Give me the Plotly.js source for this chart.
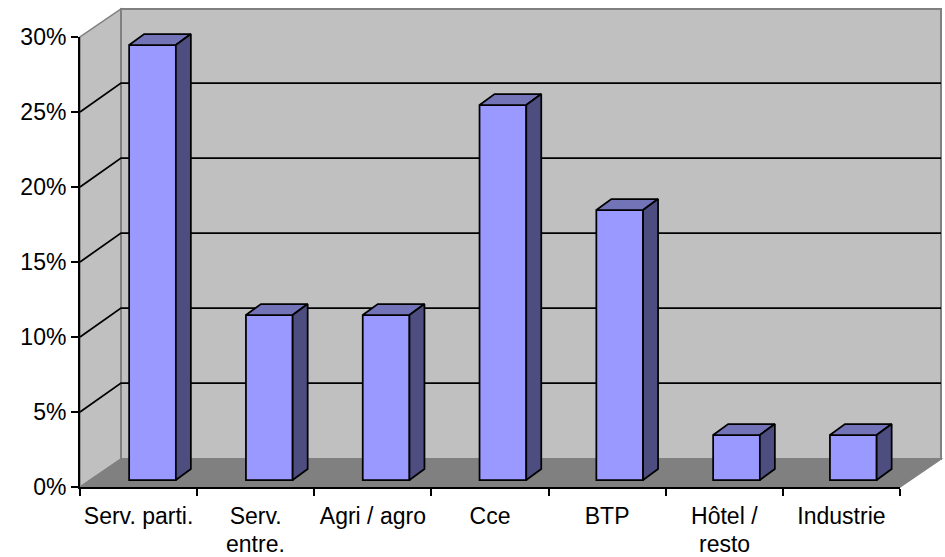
<!DOCTYPE html>
<html>
<head>
<meta charset="utf-8">
<script src="https://cdn.plot.ly/plotly-3.0.1.min.js"></script>
<style>html,body{margin:0;padding:0;background:#fff}#chart{width:945px;height:557px}</style>
</head>
<body>
<div id="chart"></div>
<script>
// Sector shares, in percent
const categories = ['Serv. parti.', 'Serv.', 'Agri / agro', 'Cce', 'BTP', 'Hôtel /', 'Industrie'];
const secondLines = ['', 'entre.', '', '', '', 'resto', ''];
const shares = [29, 11, 11, 25, 18, 3, 3];
const yTicks = [0, 5, 10, 15, 20, 25, 30];

// Page geometry of the fake 3D box, in pixels
const W = 945, H = 557;
const M = {l: 80, r: 4, t: 5, b: 70};
const box = {left: 80, right: 900, top: 37, bottom: 487, dx: 41, dy: 28, gridDy: 29};
const barPlane = {firstCentre: 152.5, spacing: 116.8, zeroY: 480, unitY: 15};
const barDepth = {px: 15, py: 11};
const barGap = 0.6;

const plotW = W - M.l - M.r, plotH = H - M.t - M.b;
const paperX = p => (p - M.l) / plotW;
const paperY = p => (H - M.b - p) / plotH;

const polyPath = pts => 'M' + pts.map(p => paperX(p[0]) + ',' + paperY(p[1])).join('L') + 'Z';
const linePath = pts => 'M' + pts.map(p => paperX(p[0]) + ',' + paperY(p[1])).join('L');
const paperShape = (path, fill, color, width) => ({
  type: 'path', xref: 'paper', yref: 'paper', layer: 'below', path: path,
  fillcolor: fill, line: {color: color, width: width}
});

// Side wall, back wall and floor
const b = box;
const shapes = [
  paperShape(polyPath([[b.left, b.bottom], [b.left + b.dx, b.bottom - b.dy], [b.left + b.dx, b.top - b.dy], [b.left, b.top]]), '#c0c0c0', '#808080', 1.5),
  paperShape(polyPath([[b.left + b.dx, b.bottom - b.dy], [b.right + b.dx, b.bottom - b.dy], [b.right + b.dx, b.top - b.dy], [b.left + b.dx, b.top - b.dy]]), '#c0c0c0', '#808080', 2),
  paperShape(polyPath([[b.left, b.bottom], [b.right, b.bottom], [b.right + b.dx, b.bottom - b.dy], [b.left + b.dx, b.bottom - b.dy]]), '#808080', '#808080', 1.5)
];

// Gridlines run across the side wall and then along the back wall
const pxPerUnit = (b.bottom - b.top) / 30;
yTicks.filter(v => v > 0 && v < 30).forEach(v => {
  const y = b.bottom - v * pxPerUnit;
  shapes.push(paperShape(linePath([[b.left, y], [b.left + b.dx, y - b.gridDy], [b.right + b.dx, y - b.gridDy]]), 'rgba(0,0,0,0)', '#000000', 1.75));
});

// A second subplot over the whole box places the bars a little inside it
const barXStart = (b.left - barPlane.firstCentre) / barPlane.spacing;
const barXRange = [barXStart, barXStart + plotW / barPlane.spacing];
const barYStart = (barPlane.zeroY - (H - M.b)) / barPlane.unitY;
const barYRange = [barYStart, barYStart + plotH / barPlane.unitY];

// Top and side faces of each bar, offset from its value in data units
const halfW = (1 - barGap) / 2;
const dxData = barDepth.px / barPlane.spacing;
const dyData = barDepth.py / barPlane.unitY;
const topX = [], topY = [], sideX = [], sideY = [];
shares.forEach((v, i) => {
  const l = i - halfW, r = i + halfW;
  topX.push(l, r, r + dxData, l + dxData, l, null);
  topY.push(v, v, v + dyData, v + dyData, v, null);
  sideX.push(r, r + dxData, r + dxData, r, r, null);
  sideY.push(v, v + dyData, dyData, 0, v, null);
});

const edge = {color: '#000000', width: 1.75};
const traces = [
  // Invisible trace that keeps the category axis populated
  {type: 'scatter', mode: 'none', x: categories, y: shares, xaxis: 'x', yaxis: 'y', hoverinfo: 'skip', showlegend: false},
  {type: 'bar', x: shares.map((_, i) => i), y: shares, xaxis: 'x2', yaxis: 'y2', width: 1 - barGap,
   marker: {color: '#9999ff', line: edge}, cliponaxis: false, showlegend: false, hoverinfo: 'skip'},
  {type: 'scatter', mode: 'lines', x: topX, y: topY, xaxis: 'x2', yaxis: 'y2', fill: 'toself', fillcolor: '#7373b8',
   line: edge, cliponaxis: false, showlegend: false, hoverinfo: 'skip'},
  {type: 'scatter', mode: 'lines', x: sideX, y: sideY, xaxis: 'x2', yaxis: 'y2', fill: 'toself', fillcolor: '#4d4d80',
   line: edge, cliponaxis: false, showlegend: false, hoverinfo: 'skip'}
];

const font = {family: '"Liberation Sans", Arial, sans-serif', size: 23, color: '#000000'};

// Second lines of the long category labels, set with a wider line gap than <br> gives
const annotations = secondLines.map((t, i) => ({
  text: t, x: categories[i], xref: 'x', y: paperY(543.5), yref: 'paper',
  xanchor: 'center', yanchor: 'middle', showarrow: false, font: font
})).filter(a => a.text);

const layout = {
  width: W, height: H,
  margin: M,
  paper_bgcolor: '#ffffff', plot_bgcolor: 'rgba(0,0,0,0)',
  showlegend: false, font: font, shapes: shapes, annotations: annotations,
  xaxis: {
    type: 'category', categoryorder: 'array', categoryarray: categories,
    range: [-0.5, categories.length - 0.5], domain: [paperX(b.left), paperX(b.right)],
    anchor: 'y', tickson: 'boundaries', ticks: 'outside', ticklen: 7, tickwidth: 2, tickcolor: '#000000',
    showline: true, linecolor: '#000000', linewidth: 2, showgrid: false, zeroline: false, tickangle: 0, tickfont: font,
    ticklabelstandoff: 7
  },
  yaxis: {
    range: [0, 30], anchor: 'x', domain: [paperY(b.bottom), paperY(b.top)],
    tickvals: yTicks, ticktext: yTicks.map(v => v + '%'), ticks: 'outside', ticklen: 7, tickwidth: 2, tickcolor: '#000000',
    showline: true, linecolor: '#000000', linewidth: 2, showgrid: false, zeroline: false, tickfont: font
  },
  xaxis2: {type: 'linear', anchor: 'y2', visible: false, range: barXRange, domain: [0, 1]},
  yaxis2: {type: 'linear', anchor: 'x2', visible: false, range: barYRange, domain: [0, 1]}
};

Plotly.newPlot('chart', traces, layout, {displayModeBar: false, staticPlot: true});
</script>
</body>
</html>
